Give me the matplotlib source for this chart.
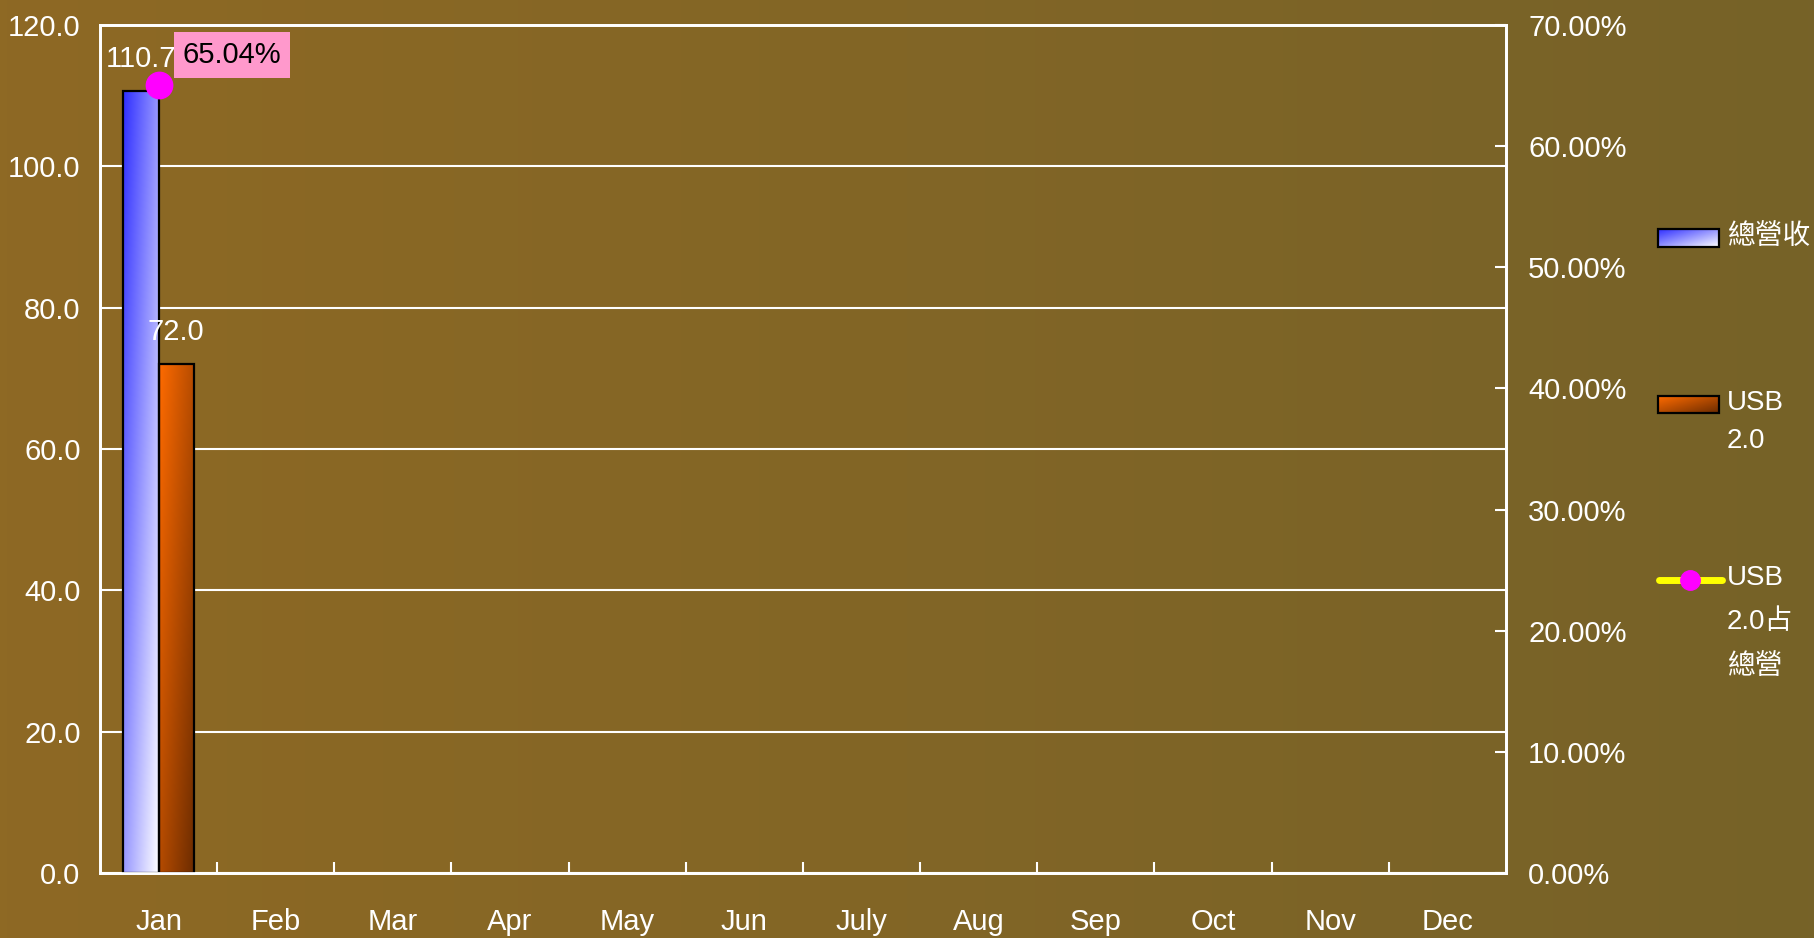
import matplotlib
matplotlib.use("Agg")
import matplotlib.pyplot as plt
from matplotlib.ticker import FixedLocator, FuncFormatter
import numpy as np

months = ["Jan", "Feb", "Mar", "Apr", "May", "Jun", "July", "Aug", "Sep", "Oct", "Nov", "Dec"]
revenue = [110.7]          # 總營收
usb20 = [72.0]             # USB 2.0
usb_share = [65.04]        # USB 2.0占總營 (%)

FONT = ["Liberation Sans Narrow", "Liberation Sans", "Noto Sans CJK TC", "DejaVu Sans"]
plt.rcParams["font.family"] = FONT
WHITE = "white"
FS = 21

W, H = 1815, 938
fig = plt.figure(figsize=(W / 100, H / 100), dpi=100)

# background gradient (left brown -> right olive)
bg = fig.add_axes([0, 0, 1, 1], zorder=-10)
xf = np.linspace(0, 1, 256)
c_left = np.array([0x8E, 0x69, 0x24]) / 255
c_right = np.array([0x76, 0x62, 0x28]) / 255
grad = c_left[None, None, :] * (1 - xf)[None, :, None] + c_right[None, None, :] * xf[None, :, None]
bg.imshow(np.repeat(grad, 4, axis=0), aspect="auto", extent=(0, 1, 0, 1))
bg.axis("off")


def gradient_img(c0, c1, n=120):
    gx = np.linspace(0, 1, n)[None, :]
    gy = np.linspace(0, 1, n)[:, None]
    t = (0.5 * gx + 0.5 * gy)[..., None]
    return np.array(c0)[None, None, :] * (1 - t) + np.array(c1)[None, None, :] * t


BLUE_GRAD = ((0.18, 0.18, 1.0), (1.0, 1.0, 1.0))
ORANGE_GRAD = ((1.0, 0.42, 0.0), (0.42, 0.17, 0.0))

ax = fig.add_axes([100 / W, 65 / H, 1406 / W, 848 / H])
ax.patch.set_alpha(0)
x = np.arange(len(revenue))
bw = 0.3

bars_rev = ax.bar(x - bw / 2, revenue, bw, facecolor="none", edgecolor="black", linewidth=1.6, zorder=3)
bars_usb = ax.bar(x + bw / 2, usb20, bw, facecolor="none", edgecolor="black", linewidth=1.6, zorder=3)
for bars, (c0, c1) in [(bars_rev, BLUE_GRAD), (bars_usb, ORANGE_GRAD)]:
    for b in bars:
        x0, w, h = b.get_x(), b.get_width(), b.get_height()
        ax.imshow(gradient_img(c0, c1), extent=(x0, x0 + w, 0, h), aspect="auto", zorder=2)

for bars, vals in [(bars_rev, revenue), (bars_usb, usb20)]:
    for b, v in zip(bars, vals):
        ax.annotate(f"{v:.1f}", (b.get_x() + b.get_width() / 2, v), xytext=(0, 18),
                    textcoords="offset pixels", ha="center", va="bottom",
                    fontsize=FS, color=WHITE, zorder=5)

ax.set_xlim(-0.5, len(months) - 0.5)
ax.set_ylim(0, 120)
ax.set_yticks(np.arange(0, 121, 20))
ax.yaxis.set_major_formatter(FuncFormatter(lambda v, p: f"{v:.1f}"))
ax.set_xticks(np.arange(len(months)))
ax.set_xticklabels(months)
ax.xaxis.set_minor_locator(FixedLocator(np.arange(0.5, len(months) - 1, 1)))
ax.tick_params(axis="x", which="major", length=0, pad=25, labelsize=FS, labelcolor=WHITE)
ax.tick_params(axis="x", which="minor", direction="in", length=8, width=1.5, color=WHITE)
ax.tick_params(axis="y", length=0, pad=14, labelsize=FS, labelcolor=WHITE)
ax.grid(axis="y", color=WHITE, linewidth=1.5, zorder=1)
ax.set_axisbelow(True)
for s in ax.spines.values():
    s.set_color(WHITE)
    s.set_linewidth(2)

ax2 = ax.twinx()
ax2.patch.set_alpha(0)
ax2.plot(x, usb_share, color="yellow", linewidth=5, marker="o", markersize=19,
         markerfacecolor="#FF00FF", markeredgecolor="#FF00FF", zorder=6, clip_on=False)
for xi, v in zip(x, usb_share):
    ax2.annotate(f"{v:.2f}%", (xi, v), xytext=(24, 30), textcoords="offset pixels",
                 ha="left", va="center", fontsize=FS, color="black",
                 bbox=dict(boxstyle="square,pad=0.3", facecolor="#FF99CC", edgecolor="none"))
ax2.set_ylim(0, 70)
ax2.set_yticks(np.arange(0, 71, 10))
ax2.yaxis.set_major_formatter(FuncFormatter(lambda v, p: f"{v:.2f}%"))
ax2.tick_params(axis="y", direction="in", length=8, width=1.5, color=WHITE, pad=16,
                labelsize=FS, labelcolor=WHITE)
for s in ax2.spines.values():
    s.set_color(WHITE)
    s.set_linewidth(2)

# legend drawn in pixel coordinates
lg = fig.add_axes([0, 0, 1, 1], zorder=20)
lg.axis("off")
lg.imshow(gradient_img(*BLUE_GRAD), extent=(1658, 1719, 247, 229), aspect="auto")
lg.add_patch(plt.Rectangle((1658, 229), 61, 18, fill=False, edgecolor="black", linewidth=1.6))
lg.imshow(gradient_img(*ORANGE_GRAD), extent=(1658, 1719, 413, 396), aspect="auto")
lg.add_patch(plt.Rectangle((1658, 396), 61, 17, fill=False, edgecolor="black", linewidth=1.6))
lg.plot([1659, 1722], [580, 580], color="yellow", linewidth=5, solid_capstyle="round")
lg.plot([1690], [580], marker="o", markersize=14, color="#FF00FF")
lg.set_xlim(0, W)
lg.set_ylim(H, 0)

legend_lines = [("總營收", 237), ("USB", 403), ("2.0", 441),
                ("USB", 578), ("2.0占", 622), ("總營", 667)]
for txt, yy in legend_lines:
    lg.text(1727, yy, txt, fontsize=20, color=WHITE, ha="left", va="center", family=FONT)

fig.savefig("out.png", dpi=100)
